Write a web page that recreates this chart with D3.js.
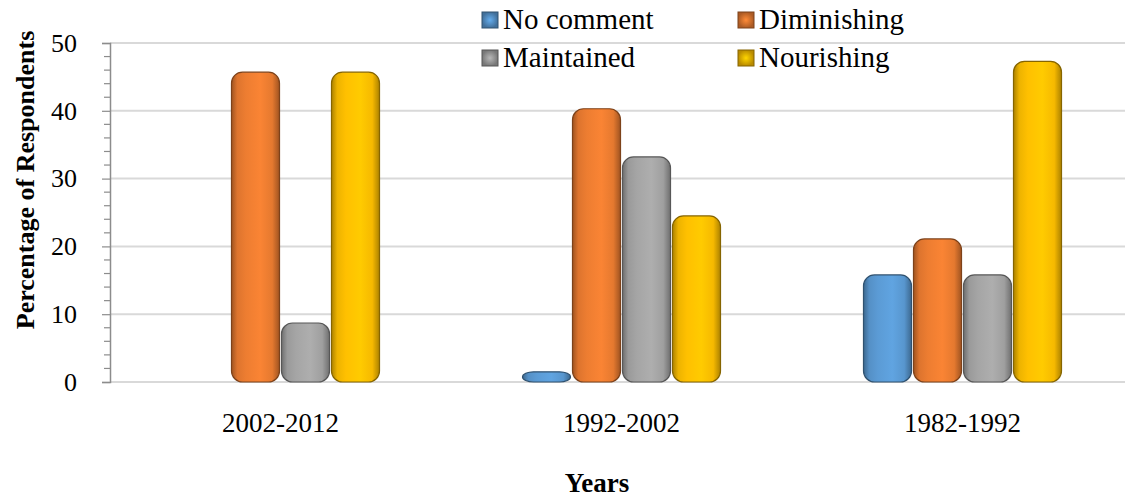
<!DOCTYPE html>
<html>
<head>
<meta charset="utf-8">
<script src="https://cdn.jsdelivr.net/npm/d3@7"></script>
<style>
  html, body { margin: 0; padding: 0; background: #ffffff; }
  svg { display: block; }
  svg text { font-family: "Times New Roman", "Liberation Serif", "DejaVu Serif", serif !important; fill: #000; }
</style>
</head>
<body>
<svg id="chart" width="1125" height="497"></svg>
<script>
// ---- data ----
const categories = ["2002-2012", "1992-2002", "1982-1992"];
const seriesNames = ["No comment", "Diminishing", "Maintained", "Nourishing"];
const noComment   = [0,    1.5,  15.8];
const diminishing = [45.7, 40.3, 21.1];
const maintained  = [8.7,  33.2, 15.8];
const nourishing  = [45.7, 24.5, 47.3];
const yTicks = [0, 10, 20, 30, 40, 50];
const colors = ["#5b9bd5", "#ed7d31", "#a5a5a5", "#ffc000"];
const seriesValues = [noComment, diminishing, maintained, nourishing];

// ---- layout ----
const svg = d3.select("#chart");
const W = 1125, H = 497;
const left = 110, plotTop = 43, plotBottom = 382;
const serif = '"Times New Roman", "Liberation Serif", "DejaVu Serif", serif';

const y = d3.scaleLinear().domain([0, 50]).range([plotBottom, plotTop]);
const x0 = d3.scaleBand().domain(categories).range([left, left + 3 * 341]).padding(0);
const x1 = d3.scaleBand().domain(seriesNames).range([x0.bandwidth() / 2 - 99, x0.bandwidth() / 2 + 99]).paddingInner(0.04);

// gradients
const defs = svg.append("defs");
colors.forEach((c, i) => {
  const base = d3.color(c);
  const g = defs.append("linearGradient").attr("id", "g" + i)
    .attr("x1", "0%").attr("x2", "100%").attr("y1", "0%").attr("y2", "0%");
  g.append("stop").attr("offset", "0%").attr("stop-color", base.darker(1.1));
  g.append("stop").attr("offset", "12%").attr("stop-color", base.darker(0.2));
  g.append("stop").attr("offset", "30%").attr("stop-color", base);
  g.append("stop").attr("offset", "60%").attr("stop-color", base.brighter(0.15));
  g.append("stop").attr("offset", "85%").attr("stop-color", base.darker(0.1));
  g.append("stop").attr("offset", "100%").attr("stop-color", base.darker(1.1));
  const r = defs.append("radialGradient").attr("id", "lg" + i);
  r.append("stop").attr("offset", "0%").attr("stop-color", base.brighter(0.3));
  r.append("stop").attr("offset", "100%").attr("stop-color", base.darker(0.9));
});

// gridlines
svg.append("g").selectAll("line").data(yTicks).join("line")
  .attr("x1", left).attr("x2", W)
  .attr("y1", d => y(d)).attr("y2", d => y(d))
  .attr("stroke", "#d9d9d9").attr("stroke-width", 2);

// y axis (major)
const yAxis = svg.append("g").attr("transform", `translate(${left},0)`)
  .call(d3.axisLeft(y).tickValues(yTicks).tickSize(8).tickPadding(25).tickFormat(d3.format("d")));
yAxis.attr("font-family", serif);
yAxis.select(".domain").attr("stroke", "#8c8c8c").attr("stroke-width", 1.5);
yAxis.selectAll(".tick line").attr("stroke", "#8c8c8c").attr("stroke-width", 1.2);
yAxis.selectAll(".tick text").attr("font-size", 26).attr("fill", "#000");

// minor ticks
const minor = d3.range(0, 51, 2).filter(v => v % 10 !== 0);
svg.append("g").selectAll("line").data(minor).join("line")
  .attr("x1", left - 6).attr("x2", left)
  .attr("y1", d => y(d)).attr("y2", d => y(d))
  .attr("stroke", "#8c8c8c").attr("stroke-width", 1.2);

// bars
const groups = svg.append("g").selectAll("g").data(categories).join("g")
  .attr("transform", d => `translate(${x0(d)},0)`);
groups.selectAll("rect")
  .data((d, ci) => seriesNames.map((s, si) => ({ s, si, v: seriesValues[si][ci] })).filter(e => e.v > 0))
  .join("rect")
  .attr("x", e => x1(e.s))
  .attr("width", x1.bandwidth())
  .attr("y", e => y(e.v))
  .attr("height", e => y(0) - y(e.v))
  .attr("rx", 11).attr("ry", 11)
  .attr("fill", e => `url(#g${e.si})`)
  .attr("stroke", e => d3.color(colors[e.si]).darker(1.8))
  .attr("stroke-width", 1.2);

// category labels
svg.append("g").selectAll("text").data(categories).join("text")
  .attr("x", d => x0(d) + x0.bandwidth() / 2)
  .attr("y", 432)
  .attr("text-anchor", "middle")
  .attr("font-family", serif)
  .attr("font-size", 27)
  .text(d => d);

// axis titles
svg.append("text")
  .attr("transform", `translate(34,180) rotate(-90)`)
  .attr("text-anchor", "middle")
  .attr("font-family", serif)
  .attr("font-size", 26).attr("font-weight", "bold")
  .text("Percentage of Respondents");
svg.append("text")
  .attr("x", 597).attr("y", 492)
  .attr("text-anchor", "middle")
  .attr("font-family", serif)
  .attr("font-size", 27).attr("font-weight", "bold")
  .text("Years");

// legend (2x2)
const legendX = [482, 738], legendY = [12, 50];
const leg = svg.append("g").selectAll("g").data(seriesNames).join("g")
  .attr("transform", (d, i) => `translate(${legendX[i % 2]},${legendY[Math.floor(i / 2)]})`);
leg.append("rect").attr("width", 16).attr("height", 16)
  .attr("fill", (d, i) => `url(#lg${i})`)
  .attr("stroke", (d, i) => d3.color(colors[i]).darker(1.8)).attr("stroke-width", 1);
leg.append("text").attr("x", 21).attr("y", 17)
  .attr("font-family", serif)
  .attr("font-size", 29)
  .text(d => d);
</script>
</body>
</html>
